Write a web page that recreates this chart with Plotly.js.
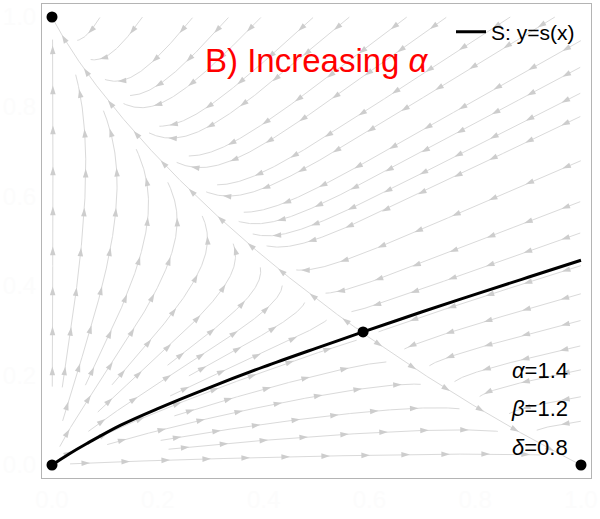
<!DOCTYPE html>
<html><head><meta charset="utf-8">
<script src="https://cdn.plot.ly/plotly-3.0.1.min.js"></script>
<style>html,body{margin:0;padding:0;background:#fff}#chart{width:600px;height:519px}</style>
</head><body><div id="chart"></div>
<script>
// Model parameters printed on the chart (competitive Lotka-Volterra)
const paramNames = ['α', 'β', 'δ'];
const paramValues = [1.4, 1.2, 0.8];
// Equilibria (black dots): (0,0), (0,1), (1,0), interior saddle
const eqX = [0, 0, 1, 0.588];
const eqY = [0, 1, 0, 0.297];
// Separatrix S: y = s(x)
const sepX = [0, 0.03, 0.066, 0.13, 0.2, 0.3, 0.4, 0.5, 0.588, 0.7, 0.8, 0.9, 1.0];
const sepY = [0, 0.023, 0.048, 0.089, 0.126, 0.174, 0.219, 0.261, 0.297, 0.342, 0.381, 0.419, 0.457];
// Axis ticks
const tickVals = [0, 0.2, 0.4, 0.6, 0.8, 1.0];
const tickText = ['0.0', '0.2', '0.4', '0.6', '0.8', '1.0'];

const XR = [-0.0189, 1.0189], YR = [-0.029, 1.029];
const M = {l: 42, r: 9, t: 4, b: 41};
const W = 600, H = 519;
const SX = (W - M.l - M.r) / (XR[1] - XR[0]);
const SY = (H - M.t - M.b) / (YR[1] - YR[0]);
const [A, B, D] = paramValues;

function field(x, y) { return [x * (1 - x - A * y), D * y * (1 - y - B * x)]; }
function dir(p) {
  const f = field(p[0] / SX, p[1] / SY);
  const vx = f[0] * SX, vy = f[1] * SY, m = Math.hypot(vx, vy);
  return m < 1e-12 ? null : [vx / m, vy / m];
}
const eqP = eqX.map((x, i) => [x * SX, eqY[i] * SY]);

// stream line tracing (evenly spaced streamlines)
const dsep = 23, dtest = 10, h = 1;
const grid = new Map();
function key(x, y) { return Math.floor(x / dsep) + ',' + Math.floor(y / dsep); }
function near(p, d, lid) {
  const cx = Math.floor(p[0] / dsep), cy = Math.floor(p[1] / dsep);
  for (let i = -1; i <= 1; i++) for (let j = -1; j <= 1; j++) {
    const arr = grid.get((cx + i) + ',' + (cy + j));
    if (!arr) continue;
    for (const q of arr) if (q[2] !== lid && Math.hypot(q[0] - p[0], q[1] - p[1]) < d) return true;
  }
  return false;
}
function addLine(pts, lid) {
  for (const p of pts) {
    const k = key(p[0], p[1]);
    if (!grid.has(k)) grid.set(k, []);
    grid.get(k).push([p[0], p[1], lid]);
  }
}
function inside(p) { return p[0] >= 0 && p[0] <= SX && p[1] >= 0 && p[1] <= SY; }
function trace(p0, sign, lid) {
  const pts = [];
  let p = p0;
  for (let i = 0; i < 4000; i++) {
    const d1 = dir(p); if (!d1) break;
    const mid = [p[0] + sign * d1[0] * h / 2, p[1] + sign * d1[1] * h / 2];
    const d2 = dir(mid); if (!d2) break;
    if (d1[0] * d2[0] + d1[1] * d2[1] < 0.5) break;
    const q = [p[0] + sign * d2[0] * h, p[1] + sign * d2[1] * h];
    if (!inside(q)) break;
    if (eqP.some(e => Math.hypot(e[0] - q[0], e[1] - q[1]) < 4)) { pts.push(q); break; }
    if (near(q, dtest, lid)) break;
    pts.push(q); p = q;
  }
  return pts;
}
const lines = [];
function makeLine(seed, mode) {
  const lid = lines.length;
  let fw = [], bw = [];
  if (mode !== 'b') fw = trace(seed, 1, lid);
  if (mode !== 'f') bw = trace(seed, -1, lid);
  const pts = bw.reverse().concat([seed], fw);
  let len = 0;
  for (let i = 1; i < pts.length; i++) len += Math.hypot(pts[i][0] - pts[i - 1][0], pts[i][1] - pts[i - 1][1]);
  if (len < 12) return null;
  lines.push(pts); addLine(pts, lid);
  return pts;
}
// manifolds of the saddle
(function () {
  const s = eqP[3], e = 1e-4;
  const f0 = field(eqX[3], eqY[3]);
  const fx = field(eqX[3] + e, eqY[3]), fy = field(eqX[3], eqY[3] + e);
  const a = (fx[0] - f0[0]) / e, b = (fy[0] - f0[0]) / e, c = (fx[1] - f0[1]) / e, d = (fy[1] - f0[1]) / e;
  const tr = a + d, det = a * d - b * c, disc = Math.sqrt(tr * tr / 4 - det);
  [tr / 2 + disc, tr / 2 - disc].forEach((lam, k) => {
    let v = [b, lam - a];
    let vp = [v[0] * SX, v[1] * SY]; const m = Math.hypot(vp[0], vp[1]); vp = [vp[0] / m, vp[1] / m];
    [1, -1].forEach(sg => {
      const seed = [s[0] + sg * 5 * vp[0], s[1] + sg * 5 * vp[1]];
      makeLine(seed, k === 0 ? 'f' : 'b');
    });
  });
})();
// queue-based seeding
function seedFrom(idx) {
  const pts = lines[idx];
  for (let i = 0; i < pts.length; i += 6) {
    const p = pts[i], q = pts[Math.min(i + 1, pts.length - 1)], r = pts[Math.max(i - 1, 0)];
    let tx = q[0] - r[0], ty = q[1] - r[1]; const m = Math.hypot(tx, ty) || 1; tx /= m; ty /= m;
    for (const sg of [1, -1]) {
      const c = [p[0] - sg * ty * dsep, p[1] + sg * tx * dsep];
      if (!inside(c) || near(c, dsep * 0.95, -1)) continue;
      if (eqP.some(e => Math.hypot(e[0] - c[0], e[1] - c[1]) < 8)) continue;
      makeLine(c, 'both');
    }
  }
}
let qi = 0;
function drain() { while (qi < lines.length) { seedFrom(qi); qi++; } }
drain();
for (let gy = dsep / 2; gy < SY; gy += dsep / 2) for (let gx = dsep / 2; gx < SX; gx += dsep / 2) {
  const c = [gx, gy];
  if (near(c, dsep * 0.95, -1)) continue;
  if (eqP.some(e => Math.hypot(e[0] - c[0], e[1] - c[1]) < 8)) continue;
  if (makeLine(c, 'both')) drain();
}

// build traces
const lx = [], ly = [], ax = [], ay = [], aa = [];
const spacing = 40;
for (const pts of lines) {
  let s = 0, next = spacing / 2;
  for (let i = 0; i < pts.length; i++) {
    if (i > 0) s += Math.hypot(pts[i][0] - pts[i - 1][0], pts[i][1] - pts[i - 1][1]);
    lx.push(pts[i][0] / SX); ly.push(pts[i][1] / SY);
    if (i > 0 && s >= next && i < pts.length - 3) {
      const j = Math.min(i + 2, pts.length - 1), k = Math.max(i - 2, 0);
      const dx = pts[j][0] - pts[k][0], dy = pts[j][1] - pts[k][1];
      ax.push(pts[i][0] / SX); ay.push(pts[i][1] / SY);
      aa.push(Math.atan2(dx, dy) * 180 / Math.PI);
      next += spacing;
    }
  }
  lx.push(null); ly.push(null);
}

const FONT = 'Liberation Sans, Arial, sans-serif';
const data = [
  {x: lx, y: ly, mode: 'lines', type: 'scatter', line: {color: '#dadada', width: 1}, hoverinfo: 'skip', showlegend: false},
  {x: ax, y: ay, mode: 'markers', type: 'scatter', marker: {symbol: 'arrow', size: 9, angle: aa, color: '#cdcdcd', line: {width: 0}}, hoverinfo: 'skip', showlegend: false},
  {x: sepX, y: sepY, mode: 'lines', type: 'scatter', name: 'S: y=s(x)', line: {color: '#000', width: 3, shape: 'spline', smoothing: 1}},
  {x: eqX, y: eqY, mode: 'markers', type: 'scatter', marker: {color: '#000', size: 11}, showlegend: false, cliponaxis: false}
];
const ax0 = {range: XR, showgrid: false, zeroline: false, showline: true, mirror: true, linecolor: '#b4b4b4', linewidth: 1,
  tickvals: tickVals, ticktext: tickText, ticks: '', tickfont: {family: FONT, size: 24, color: '#fcfcfc'}};
const layout = {
  width: W, height: H, margin: M, paper_bgcolor: '#fff', plot_bgcolor: '#fff',
  font: {family: FONT},
  xaxis: Object.assign({}, ax0),
  yaxis: Object.assign({}, ax0, {range: YR}),
  showlegend: true,
  legend: {x: 0.745, y: 0.984, xanchor: 'left', yanchor: 'top', bgcolor: 'rgba(0,0,0,0)', font: {family: FONT, size: 21, color: '#000'}},
  annotations: [
    {x: 0.5, y: 0.902, xref: 'x', yref: 'y', text: 'B) Increasing <i>α</i>', showarrow: false, font: {family: FONT, size: 33, color: '#ff0000'}, xanchor: 'center', yanchor: 'middle'}
  ].concat(paramNames.map((n, i) => ({
    x: 0.98, y: [0.212, 0.127, 0.040][i], xref: 'x', yref: 'y', text: '<i>' + n + '</i>=' + paramValues[i],
    showarrow: false, xanchor: 'right', yanchor: 'middle', font: {family: FONT, size: 22, color: '#000'}
  })))
};
Plotly.newPlot('chart', data, layout, {staticPlot: true, displayModeBar: false});
</script>
</body></html>
